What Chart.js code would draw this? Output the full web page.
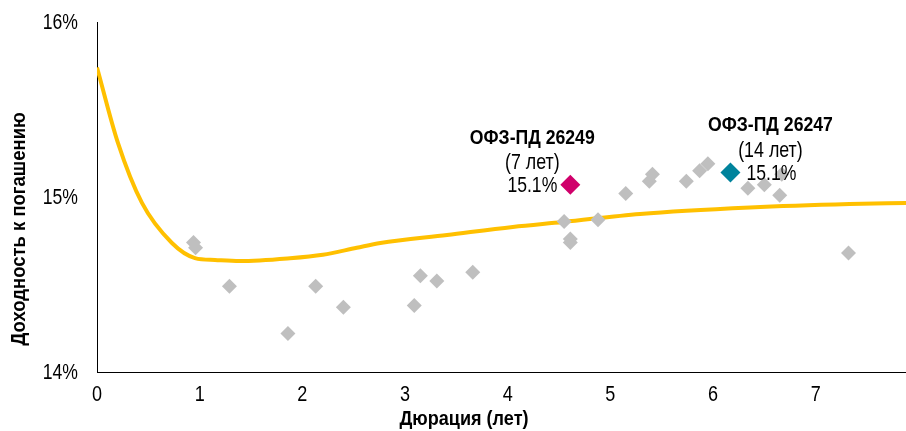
<!DOCTYPE html>
<html>
<head>
<meta charset="utf-8">
<script src="https://cdn.jsdelivr.net/npm/chart.js@4"></script>
<style>
  html, body { margin: 0; padding: 0; background: #fff; overflow: hidden; }
  #wrap { position: relative; width: 906px; height: 431px; }
</style>
</head>
<body>
<div id="wrap"><canvas id="plot-ofz"></canvas></div>
<script>
// grey bonds: duration (years) and yield (%)
const otherDur = [0.94, 0.96, 1.29, 1.86, 2.13, 2.40, 3.09, 3.15, 3.31, 3.66, 4.55, 4.61, 4.61, 4.88,
                  5.15, 5.38, 5.41, 5.74, 5.87, 5.95, 6.34, 6.50, 6.65, 6.67, 7.32];
const otherYield = [14.74, 14.71, 14.49, 14.22, 14.49, 14.37, 14.38, 14.55, 14.52, 14.57, 14.86, 14.76, 14.74, 14.87,
                    15.02, 15.09, 15.13, 15.09, 15.15, 15.19, 15.05, 15.07, 15.01, 15.13, 14.68];

// G-curve
const curveDur = [0, 0.204, 0.438, 0.73, 0.954, 1.15, 1.39, 1.88, 2.2, 2.53, 2.76,
                  3.41, 4.05, 4.54, 5.29, 6.36, 7.33, 7.88];
const curveYield = [15.74, 15.309, 14.966, 14.737, 14.651, 14.64, 14.634, 14.65,
                    14.67, 14.71, 14.737, 14.783, 14.829, 14.857, 14.903, 14.94, 14.96, 14.966];

// highlighted issues
const hlNames = ['ОФЗ-ПД 26249', 'ОФЗ-ПД 26247'];
const hlTerms = ['(7 лет)', '(14 лет)'];
const hlDur = [4.61, 6.17];
const hlYield = [15.07, 15.14];
const hlLabels = ['15.1%', '15.1%'];
const hlColors = ['#D0006B', '#00839C'];

const xTicks = [0, 1, 2, 3, 4, 5, 6, 7];
const yTicks = [14, 15, 16];

const FONT = "'Liberation Sans', Arial, sans-serif";

function pts(xs, ys) {
    return xs.map((x, i) => ({ x: x, y: ys[i] }));
}

// no narrow font installed, so squeeze the regular one horizontally
function narrowText(ctx, text, x, y, font, align, squeeze) {
    ctx.save();
    ctx.font = font + ' ' + FONT;
    ctx.textAlign = align;
    ctx.textBaseline = 'middle';
    ctx.scale(squeeze, 1);
    ctx.fillText(text, x / squeeze, y);
    ctx.restore();
}

const labelsPlugin = {
    id: 'ofzLabels',
    afterDatasetsDraw(chart) {
        const ctx = chart.ctx;
        const xs = chart.scales.x, ys = chart.scales.y;
        ctx.save();
        ctx.fillStyle = '#000';

        // tick labels at the scale's own tick positions
        xs.ticks.forEach(t => {
            narrowText(ctx, String(t.value), xs.getPixelForValue(t.value), 395, '22px', 'center', 0.82);
        });
        ys.ticks.forEach(t => {
            narrowText(ctx, t.value + '%', 78, ys.getPixelForValue(t.value) + 1, '22px', 'right', 0.8);
        });

        for (let i = 0; i < hlDur.length; i++) {
            const px = xs.getPixelForValue(hlDur[i]);
            const py = ys.getPixelForValue(hlYield[i]);
            // first label sits left of its marker, second one right
            const left = i === 0;
            const cx = left ? px - 38 : px + 40;
            narrowText(ctx, hlNames[i], cx, py - 47, 'bold 21px', 'center', 0.84);
            narrowText(ctx, hlTerms[i], cx, py - 22, '22px', 'center', 0.81);
            narrowText(ctx, hlLabels[i], left ? px - 13 : px + 16, py + 1, '22px', left ? 'right' : 'left', 0.8);
        }

        // axis titles
        narrowText(ctx, 'Дюрация (лет)', 464, 419, 'bold 21px', 'center', 0.86);
        ctx.translate(19, 229);
        ctx.rotate(-Math.PI / 2);
        narrowText(ctx, 'Доходность к погашению', 0, 0, 'bold 21px', 'center', 0.88);
        ctx.restore();
    }
};

new Chart('plot-ofz', {
    type: 'scatter',
    data: {
        datasets: [{
            data: pts(hlDur, hlYield),
            backgroundColor: hlColors,
            borderWidth: 0,
            pointStyle: 'rectRot',
            pointRadius: 10
        }, {
            data: pts(otherDur, otherYield),
            backgroundColor: '#BFBFBF',
            borderWidth: 0,
            pointStyle: 'rectRot',
            pointRadius: 7.5
        }, {
            data: pts(curveDur, curveYield),
            showLine: true,
            borderColor: '#FFC000',
            borderWidth: 4,
            pointRadius: 0,
            cubicInterpolationMode: 'monotone'
        }]
    },
    options: {
        responsive: true,
        maintainAspectRatio: false,
        animation: false,
        layout: {
            autoPadding: false, // otherwise the point radius eats the right edge
            padding: { top: 22, right: 0, bottom: 0, left: 0 }
        },
        plugins: {
            legend: { display: false },
            tooltip: { enabled: false }
        },
        scales: {
            x: {
                type: 'linear',
                min: 0,
                max: 7.88,
                afterBuildTicks(s) { s.ticks = xTicks.map(v => ({ value: v })); },
                afterFit(s) {
                    s.height = 59;
                    s.paddingLeft = 0;
                    s.paddingRight = 0;
                },
                grid: { display: false, drawTicks: false },
                border: { display: true, color: '#000', width: 1 },
                ticks: { display: false }
            },
            y: {
                min: 14,
                max: 16,
                afterBuildTicks(s) { s.ticks = yTicks.map(v => ({ value: v })); },
                afterFit(s) {
                    s.width = 97;
                    s.paddingTop = 0;
                    s.paddingBottom = 0;
                },
                grid: { display: false, drawTicks: false },
                border: { display: true, color: '#000', width: 1 },
                ticks: { display: false }
            }
        }
    },
    plugins: [labelsPlugin]
});
</script>
</body>
</html>
